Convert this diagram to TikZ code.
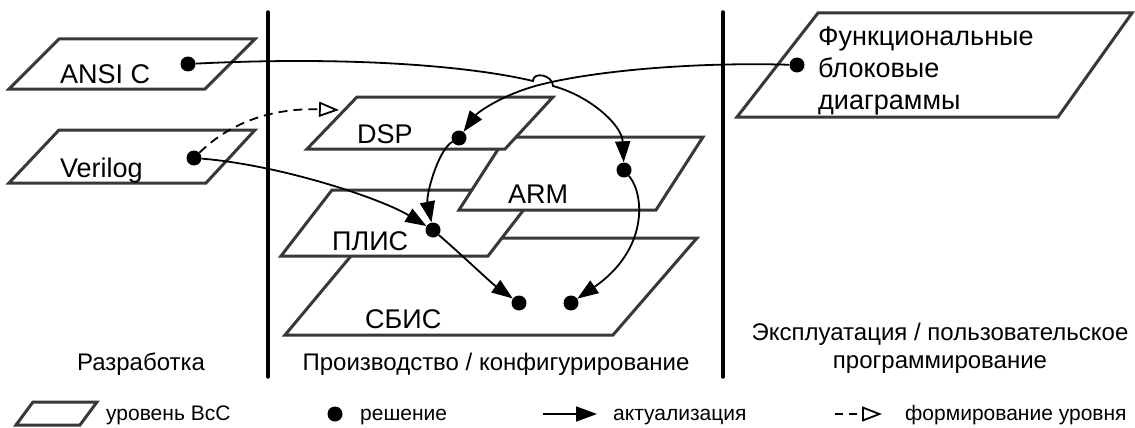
\documentclass[tikz,border=0pt]{standalone}
\usepackage{fontspec}
\setmainfont{Liberation Sans}
\usetikzlibrary{arrows.meta}

\definecolor{levelgray}{gray}{0.22}
\tikzset{
  lvl/.style = {draw = levelgray, line width = 3pt, fill = white, line join = miter},
  phase/.style = {line width = 3.5pt, line cap = round},
  sol/.style = {circle, fill = black, inner sep = 0pt, minimum size = 15pt},
  actual/.style = {line width = 1.8pt, -{Triangle[length = 21pt, width = 15pt]}},
  forming/.style = {line width = 1.8pt, dash pattern = on 9pt off 6pt, -{Triangle[open, length = 20pt, width = 15pt]}},
  lbl/.style = {font = \fontsize{27}{32}\selectfont, inner sep = 0pt, anchor = base west},
  phaselbl/.style = {font = \fontsize{24}{28}\selectfont, inner sep = 0pt, anchor = base, align = center},
  legendlbl/.style = {font = \fontsize{21}{25}\selectfont, inner sep = 0pt, anchor = base west}
}

\begin{document}
\begin{tikzpicture}[x = 1pt, y = -1pt]
\useasboundingbox (0,0) rectangle (1135,428);

\draw[phase] (268,12) -- (268,377);
\draw[phase] (723,12) -- (723,377);

\draw[lvl] (9,89) -- (205,89) -- (255,39) -- (59,39) -- cycle;
\node[lbl] (ansi) at (60,83) {ANSI C};
\draw[lvl] (9,183) -- (206,183) -- (255,130) -- (59,130) -- cycle;
\node[lbl] (verilog) at (60,177) {Verilog};

\draw[lvl] (285,335) -- (613,335) -- (697,238) -- (366,238) -- cycle;
\node[lbl] (sbis) at (365,328) {СБИС};
\draw[lvl] (281,256) -- (488,256) -- (539,190) -- (332,190) -- cycle;
\node[lbl] (plis) at (332,250) {ПЛИС};
\draw[lvl] (459,210) -- (656,210) -- (703,137) -- (506,137) -- cycle;
\node[lbl] (arm) at (508,203) {ARM};
\draw[lvl] (307,149) -- (505,149) -- (553,97) -- (357,97) -- cycle;
\node[lbl] (dsp) at (357,143) {DSP};

\draw[lvl] (737,117) -- (1058,117) -- (1132,13) -- (818,13) -- cycle;
\node[lbl, align = left] (fbd) at (818,109) {Функциональные\\блоковые\\диаграммы};

\node[phaselbl] (dev) at (141,370) {Разработка};
\node[phaselbl] (prod) at (496,370) {Производство / конфигурирование};
\node[phaselbl] (oper) at (940,368) {Эксплуатация / пользовательское\\программирование};

\node[sol] (dAnsi) at (188,64) {};
\node[sol] (dVer) at (194,158) {};
\node[sol] (dFbd) at (797,65) {};
\node[sol] (dDsp) at (459,138) {};
\node[sol] (dArm) at (624,170) {};
\node[sol] (dPlis) at (433,230) {};
\node[sol] (dSbisA) at (519,303) {};
\node[sol] (dSbisB) at (571,303) {};

\coordinate (cross) at (543,84);
\coordinate (hopA) at (533,81);
\coordinate (hopB) at (553,86);
\coordinate (dspIn) at (339,110);

\draw[actual] (dFbd) .. controls (700,62) and (600,70) .. (cross) .. controls (505,93) and (478,112) .. (dDsp);
\draw[actual] (dAnsi) .. controls (350,56) and (470,66) .. (hopA) .. controls (533,71) and (553,75) .. (hopB) .. controls (590,96) and (622,125) .. (dArm);
\draw[actual] (dVer) .. controls (280,165) and (380,198) .. (dPlis);
\draw[forming] (dVer) .. controls (235,118) and (280,108) .. (dspIn);
\draw[actual] (dDsp) .. controls (438,150) and (426,195) .. (dPlis);
\draw[actual] (dArm) .. controls (645,195) and (648,250) .. (dSbisB);
\draw[actual] (dPlis) .. controls (462,255) and (490,282) .. (dSbisA);

\draw[lvl] (16,425) -- (80,425) -- (97,402) -- (33,402) -- cycle;
\node[legendlbl] (lgLevel) at (106,420) {уровень ВсС};
\node[sol] (lgDot) at (335,414) {};
\node[legendlbl] (lgSol) at (360,420) {решение};
\coordinate (lgActA) at (543,414);
\coordinate (lgActB) at (597,414);
\draw[actual] (lgActA) -- (lgActB);
\node[legendlbl] (lgAct) at (613,420) {актуализация};
\coordinate (lgFormA) at (835,414);
\coordinate (lgFormB) at (882,414);
\draw[forming, dash pattern = on 8pt off 6pt] (lgFormA) -- (lgFormB);
\node[legendlbl] (lgForm) at (905,420) {формирование уровня};
\end{tikzpicture}
\end{document}
